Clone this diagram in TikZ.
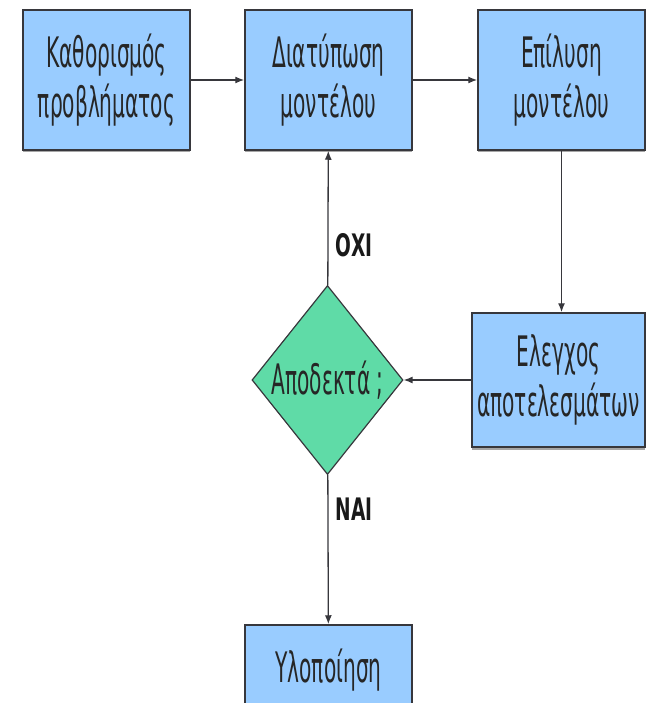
\documentclass[tikz,border=0pt]{standalone}
\usepackage{fontspec}
\newfontfamily\boxfont{DejaVu Sans}[FakeStretch=0.48]
\newfontfamily\yesnofont{DejaVu Sans}[FakeStretch=0.6]
\usetikzlibrary{arrows.meta,shapes.geometric,shadows}
\definecolor{boxblue}{RGB}{153,204,255}
\definecolor{decgreen}{RGB}{95,219,167}
\definecolor{edge}{RGB}{55,55,60}
\tikzset{
  box/.style={rectangle, draw=edge, line width=1.5pt, fill=boxblue, align=center,
    minimum width=167pt, minimum height=140pt, inner sep=2pt, text=black!85,
    font=\boxfont\fontsize{42}{50}\selectfont,
    drop shadow={shadow xshift=0pt, shadow yshift=-2.5pt, opacity=0.35, fill=black}},
  decision/.style={diamond, draw=edge, line width=1.2pt, fill=decgreen, aspect=0.8,
    inner sep=0pt, minimum width=151pt, minimum height=189pt, text=black!85,
    font=\boxfont\fontsize{42}{50}\selectfont},
  arrow/.style={-{Latex[length=9pt,width=7pt]}, line width=1.3pt, draw=edge},
  yesno/.style={right, inner sep=7pt, text=black!90, font=\yesnofont\bfseries\fontsize{31}{36}\selectfont}
}
\begin{document}
\begin{tikzpicture}[x=1pt, y=-1pt]
    \clip (0,0) rectangle (647,703);
    \node[box] (orismos) at (106.5,80) {Καθορισμός\\προβλήματος};
    \node[box] (diatyposi) at (328.5,80) {Διατύπωση\\μοντέλου};
    \node[box] (epilysi) at (561.5,80) {Επίλυση\\μοντέλου};
    \node[box, minimum width=173pt, minimum height=134pt] (elegxos) at (558.5,380) {Ελεγχος\\αποτελεσμάτων};
    \node[decision] (apodekta) at (327.5,380) {Αποδεκτά ;};
    \node[box, minimum height=90pt] (ylopoiisi) at (328.5,670) {Υλοποίηση};
    \draw[arrow] (orismos) -- (diatyposi);
    \draw[arrow] (diatyposi) -- (epilysi);
    \draw[arrow] (epilysi) -- (epilysi |- elegxos.north);
    \draw[arrow] (elegxos) -- (apodekta);
    \draw[arrow] (apodekta) -- node[yesno, pos=0.3] {ΟΧΙ} (diatyposi);
    \draw[arrow] (apodekta) -- node[yesno, pos=0.23] {ΝΑΙ} (ylopoiisi);
\end{tikzpicture}
\end{document}
